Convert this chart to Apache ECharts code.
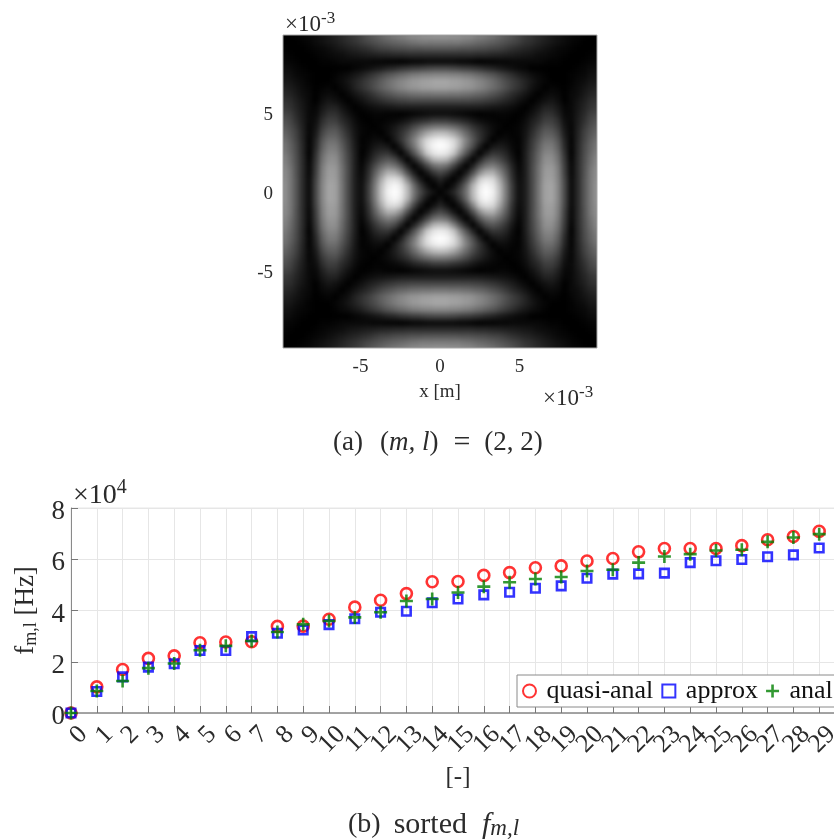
<!DOCTYPE html>
<html><head><meta charset="utf-8">
<style>
html,body{margin:0;padding:0;background:#fff;width:834px;height:839px;overflow:hidden;position:relative}
#clip{position:absolute;left:283px;top:35px;width:314px;height:313px;overflow:hidden;background:#000}
#heat{position:absolute;left:-3.5px;top:-3.5px;width:321px;height:320px;filter:blur(2.5px)}
#main{position:absolute;left:0;top:0;width:900px;height:839px;filter:blur(.3px)}
</style>
<script src="https://cdn.jsdelivr.net/npm/echarts@6/dist/echarts.min.js"></script>
</head><body>
<div id="clip"><div id="heat"></div></div>
<div id="main"></div>
<script>
// Gray level (percent); row = distance from centre, entry = lesser offset
const heatRows = [
[0],
[6,0],
[13,6,0],
[25,19,8,0],
[42,38,24,10,0],
[68,65,48,28,12,0],
[92,88,74,50,30,13,0],
[100,97,84,63,42,26,10,0],
[94,90,81,64,46,31,18,8,0],
[70,68,61,50,38,26,17,10,4,0],
[44,43,39,33,26,18,13,8,4,2,0],
[20,20,17,15,12,8,5,3,2,1,1,0],
[5,5,4,3,2,1,0,1,1,2,2,1,0],
[10,10,10,10,10,10,10,9,8,7,6,4,2,0],
[25,25,25,25,25,24,23,21,19,16,13,10,6,3,0],
[42,42,41,41,40,38,36,33,29,25,20,15,11,7,3,0],
[58,58,57,56,54,52,48,44,39,34,28,22,17,12,6,3,0],
[60,60,58,57,55,52,48,44,39,33,27,22,17,12,8,4,2,0],
[48,48,47,46,44,41,38,34,30,25,20,16,11,8,5,3,1,0,0],
[25,25,24,22,21,19,17,14,12,9,7,5,3,2,0,0,0,0,0,0],
[3,3,3,2,2,1,0,1,1,2,2,3,3,3,3,3,2,1,1,0,0],
[15,15,15,15,15,15,14,14,13,12,11,10,9,8,7,5,4,3,2,1,0,0],
[30,30,30,29,29,28,27,26,24,23,20,17,15,13,11,9,7,5,3,2,1,0,0],
[44,44,44,44,42,40,38,36,34,31,28,25,22,18,16,13,10,8,6,4,2,1,0,0],
[55,55,54,53,52,50,47,45,42,38,34,30,25,21,18,15,12,9,7,5,3,2,1,0,0]
];
const heatTicks = [-5,0,5];
const sortedIndex = [0,1,2,3,4,5,6,7,8,9,10,11,12,13,14,15,16,17,18,19,20,21,22,23,24,25,26,27,28,29];
const quasiAnal = [0,1.02,1.70,2.13,2.23,2.74,2.77,2.78,3.38,3.39,3.66,4.13,4.40,4.66,5.12,5.13,5.37,5.48,5.67,5.74,5.93,6.03,6.29,6.42,6.42,6.42,6.53,6.76,6.89,7.09];
const approx = [0,0.84,1.41,1.79,1.92,2.44,2.44,2.98,3.11,3.24,3.45,3.68,3.93,3.97,4.30,4.45,4.61,4.71,4.87,4.96,5.26,5.42,5.43,5.46,5.87,5.94,5.99,6.10,6.17,6.44];
const anal = [0,0.86,1.25,1.75,1.93,2.45,2.62,2.81,3.16,3.46,3.59,3.73,3.93,4.37,4.45,4.70,4.93,5.10,5.23,5.31,5.54,5.59,5.87,6.11,6.20,6.34,6.37,6.68,6.85,6.98];

const serif = '"Liberation Serif", serif';
const ink = '#2b2b2b';

// Heat map
const side = 2 * (heatRows.length - 1) + 1, mid = heatRows.length - 1;
const heatData = [];
for (let r = 0; r < side; r++) for (let c = 0; c < side; c++) {
  const a = Math.abs(r - mid), b = Math.abs(c - mid);
  heatData.push([c, r, heatRows[Math.max(a, b)][Math.min(a, b)]]);
}
const cats = Array.from({length: side}, (_, i) => String(i));
const heat = echarts.init(document.getElementById('heat'), null, {renderer: 'canvas'});
heat.setOption({
  animation: false,
  grid: {left: 0, right: 0, top: 0, bottom: 0},
  xAxis: {type: 'category', data: cats, show: false},
  yAxis: {type: 'category', data: cats, show: false},
  visualMap: {show: false, min: 0, max: 100, inRange: {color: ['#000000', '#484848', '#8c8c8c', '#d0d0d0', '#ffffff']}},
  series: [{type: 'heatmap', data: heatData, progressive: 0, itemStyle: {borderWidth: 0}, emphasis: {disabled: true}}]
});

// Axes, scatter, text
const pts = arr => arr.map((v, i) => [sortedIndex[i], v]);
const plus = 'path://M4 0H6V4H10V6H6V10H4V6H0V4H4Z';
const square = 'path://M0 0H10V10H0Z';
const main = echarts.init(document.getElementById('main'), null, {renderer: 'canvas'});
main.setOption({
  animation: false,
  backgroundColor: 'transparent',
  textStyle: {fontFamily: serif},
  grid: [
    {left: 283, top: 35, width: 314, height: 313, show: true, borderColor: '#a8a8a8', borderWidth: 1, backgroundColor: 'transparent'},
    {left: 71, top: 508, width: 774, height: 205, show: true, borderColor: '#e6e6e6', borderWidth: 1, backgroundColor: '#fff', z: 0}
  ],
  xAxis: [
    {gridIndex: 0, type: 'value', min: -9.87, max: 9.87, name: 'x [m]', nameLocation: 'middle', nameGap: 35,
     nameTextStyle: {fontSize: 19, color: ink, fontFamily: serif},
     axisLine: {show: false}, axisTick: {show: false}, splitLine: {show: false},
     axisLabel: {customValues: heatTicks, fontSize: 19, color: ink, margin: 10, fontFamily: serif}},
    {gridIndex: 1, type: 'value', min: 0, max: 30, interval: 1, name: '[-]', nameLocation: 'middle', nameGap: 52,
     nameTextStyle: {fontSize: 25, color: ink, fontFamily: serif},
     axisLine: {show: true, onZero: false, lineStyle: {color: '#8a8a8a', width: 1.5}},
     axisTick: {show: true, inside: true, length: 7, lineStyle: {color: '#777', width: 1}},
     splitLine: {show: true, lineStyle: {color: '#e6e6e6', width: 1}},
     axisLabel: {rotate: 45, fontSize: 26, color: ink, margin: 5, fontFamily: serif,
       align: 'right', verticalAlign: 'top', lineHeight: 35,
       showMaxLabel: false, hideOverlap: false,
       formatter: v => sortedIndex.includes(v) ? String(v) : ''}}
  ],
  yAxis: [
    {gridIndex: 0, type: 'value', min: -9.87, max: 9.87,
     axisLine: {show: false}, axisTick: {show: false}, splitLine: {show: false},
     axisLabel: {customValues: heatTicks, fontSize: 19, color: ink, margin: 10, fontFamily: serif, verticalAlign: 'top', lineHeight: 5}},
    {gridIndex: 1, type: 'value', min: 0, max: 8, interval: 2,
     name: '{f|f}{s|m,l}{f| [Hz]}', nameLocation: 'middle', nameGap: 29, nameRotate: 90,
     nameTextStyle: {rich: {
       f: {fontSize: 27, color: ink, fontFamily: serif, lineHeight: 30, verticalAlign: 'middle'},
       s: {fontSize: 18, color: ink, fontFamily: serif, lineHeight: 30, verticalAlign: 'bottom', padding: [10, 0, 0, 0]}}},
     axisLine: {show: true, onZero: false, lineStyle: {color: '#8a8a8a', width: 1}},
     axisTick: {show: true, inside: true, length: 7, lineStyle: {color: '#777', width: 1}},
     splitLine: {show: true, lineStyle: {color: '#e6e6e6', width: 1}},
     axisLabel: {fontSize: 27, color: ink, margin: 6, fontFamily: serif, verticalAlign: 'top', lineHeight: 8}}
  ],
  legend: {
    left: 517, top: 675, orient: 'horizontal', padding: [3, 10, 3, 5], itemGap: 8,
    itemWidth: 24, itemHeight: 13, backgroundColor: '#fff', borderColor: '#8a8a8a', borderWidth: 1,
    textStyle: {fontSize: 26, color: '#111', fontFamily: serif},
    data: ['quasi-anal', 'approx', 'anal']
  },
  graphic: [
    {type: 'text', left: 285, top: 10, silent: true, style: {text: '{a|×10}{b|-3}', rich: {
      a: {fontSize: 23, fill: ink, fontFamily: serif, lineHeight: 26, verticalAlign: 'bottom'},
      b: {fontSize: 17, fill: ink, fontFamily: serif, lineHeight: 26, verticalAlign: 'top'}}}},
    {type: 'text', left: 543, top: 384, silent: true, style: {text: '{a|×10}{b|-3}', rich: {
      a: {fontSize: 23, fill: ink, fontFamily: serif, lineHeight: 26, verticalAlign: 'bottom'},
      b: {fontSize: 17, fill: ink, fontFamily: serif, lineHeight: 26, verticalAlign: 'top'}}}},
    {type: 'text', left: 73, top: 478, silent: true, style: {text: '{a|×10}{b|4}', rich: {
      a: {fontSize: 28, fill: ink, fontFamily: serif, lineHeight: 32, verticalAlign: 'bottom'},
      b: {fontSize: 20, fill: ink, fontFamily: serif, lineHeight: 32, verticalAlign: 'top'}}}},
    {type: 'text', left: 333, top: 428, silent: true, style: {
      text: '{a|(a)}{p1|(}{i|m, l}{a|)}{p2|=}{p3|(2, 2)}', rich: {
      a: {fontSize: 27, fill: ink, fontFamily: serif},
      p1: {fontSize: 27, fill: ink, fontFamily: serif, padding: [0, 0, 0, 17]},
      p2: {fontSize: 30, fill: ink, fontFamily: serif, padding: [0, 0, 0, 15]},
      p3: {fontSize: 27, fill: ink, fontFamily: serif, padding: [0, 0, 0, 14]},
      i: {fontSize: 27, fontStyle: 'italic', fill: ink, fontFamily: serif}}}},
    {type: 'text', left: 348, top: 807, silent: true, style: {
      text: '{a|(b)}{g|sorted}{i|f}{s|m,l}', rich: {
      a: {fontSize: 28, fill: ink, fontFamily: serif, lineHeight: 30, verticalAlign: 'middle'},
      g: {fontSize: 30, fill: ink, fontFamily: serif, lineHeight: 30, verticalAlign: 'middle', padding: [0, 0, 0, 13]},
      i: {fontSize: 30, fontStyle: 'italic', fill: ink, fontFamily: serif, lineHeight: 30, verticalAlign: 'middle', padding: [0, 0, 0, 15]},
      s: {fontSize: 23, fontStyle: 'italic', fill: ink, fontFamily: serif, lineHeight: 30, verticalAlign: 'bottom', padding: [10, 0, 0, 0]}}}}
  ],
  series: [
    {name: 'quasi-anal', type: 'scatter', xAxisIndex: 1, yAxisIndex: 1, data: pts(quasiAnal), symbol: 'circle', symbolSize: 11, clip: false,
     itemStyle: {color: 'transparent', borderColor: '#ff0000', borderWidth: 2.6}},
    {name: 'approx', type: 'scatter', xAxisIndex: 1, yAxisIndex: 1, data: pts(approx), symbol: square, symbolSize: 8.5, clip: false,
     itemStyle: {color: 'transparent', borderColor: '#0000ff', borderWidth: 2.6}},
    {name: 'anal', type: 'scatter', xAxisIndex: 1, yAxisIndex: 1, data: pts(anal), symbol: plus, symbolSize: 13, clip: false,
     itemStyle: {color: '#008000'}}
  ]
});
</script>
</body></html>
